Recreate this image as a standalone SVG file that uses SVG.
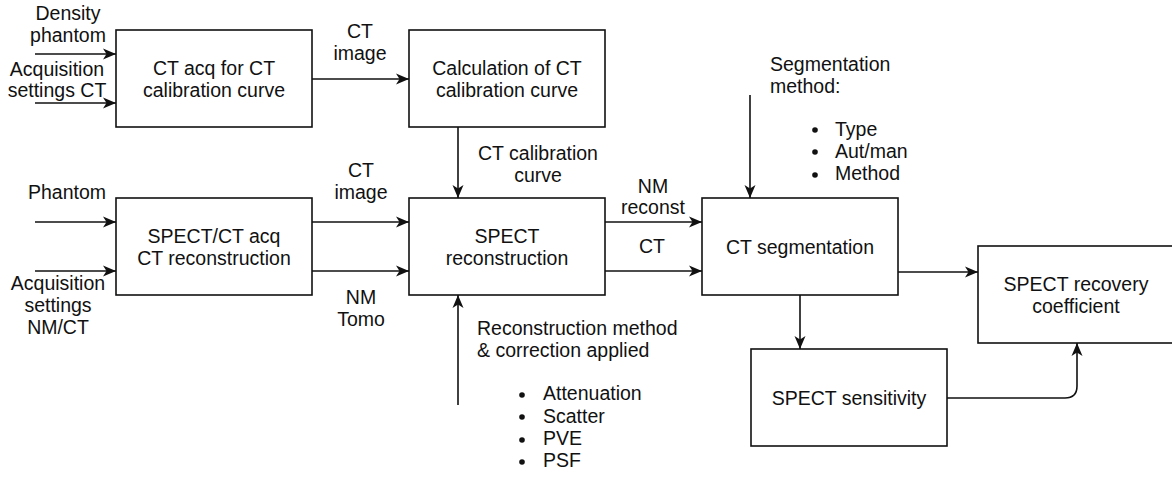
<svg xmlns="http://www.w3.org/2000/svg" width="1172" height="477" viewBox="0 0 1172 477">
<style>
  .box { fill: #ffffff; stroke: #111; stroke-width: 1.6; }
  .edge { fill: none; stroke: #111; stroke-width: 1.6; }
  text { font-family: "Liberation Sans", Arial, sans-serif; font-size: 19.5px; fill: #111; }
  .c { text-anchor: middle; }
  .bullet { fill: #111; }
</style>
<defs>
  <marker id="arr" viewBox="-14 -7 15 14" markerWidth="15" markerHeight="14" refX="0" refY="0" orient="auto" markerUnits="userSpaceOnUse">
    <path d="M0,0 L-13,-5.5 L-9.5,0 L-13,5.5 Z" fill="#111"/>
  </marker>
</defs>
<rect width="1172" height="477" fill="#ffffff"/>

<g id="connectors">
  <path class="edge" d="M35,54 H116" marker-end="url(#arr)"/>
  <path class="edge" d="M35,103 H116" marker-end="url(#arr)"/>
  <path class="edge" d="M312,79 H409" marker-end="url(#arr)"/>
  <path class="edge" d="M35,222 H116" marker-end="url(#arr)"/>
  <path class="edge" d="M35,271 H116" marker-end="url(#arr)"/>
  <path class="edge" d="M312,222 H409" marker-end="url(#arr)"/>
  <path class="edge" d="M312,271 H409" marker-end="url(#arr)"/>
  <path class="edge" d="M458,127 V198" marker-end="url(#arr)"/>
  <path class="edge" d="M605,222 H702" marker-end="url(#arr)"/>
  <path class="edge" d="M605,271 H702" marker-end="url(#arr)"/>
  <path class="edge" d="M750,95 V198" marker-end="url(#arr)"/>
  <path class="edge" d="M898,272 H978" marker-end="url(#arr)"/>
  <path class="edge" d="M800,295 V349" marker-end="url(#arr)"/>
  <path class="edge" d="M947,398 H1065 Q1077,398 1077,386 V343" marker-end="url(#arr)"/>
  <path class="edge" d="M458,405 V295" marker-end="url(#arr)"/>
</g>

<g id="labels">
  <text class="c" x="68" y="20">Density</text>
  <text class="c" x="68" y="42">phantom</text>
  <text class="c" x="57" y="76">Acquisition</text>
  <text class="c" x="57" y="97">settings CT</text>
  <text class="c" x="360" y="38">CT</text>
  <text class="c" x="360" y="60">image</text>
  <text class="c" x="538" y="160">CT calibration</text>
  <text class="c" x="538" y="182">curve</text>
  <text class="c" x="67" y="199">Phantom</text>
  <text class="c" x="58" y="290">Acquisition</text>
  <text class="c" x="58" y="312">settings</text>
  <text class="c" x="58" y="334">NM/CT</text>
  <text class="c" x="361" y="177">CT</text>
  <text class="c" x="361" y="199">image</text>
  <text class="c" x="361" y="304">NM</text>
  <text class="c" x="361" y="326">Tomo</text>
  <text class="c" x="653" y="193">NM</text>
  <text class="c" x="653" y="214">reconst</text>
  <text class="c" x="652" y="253">CT</text>
  <text x="770" y="71">Segmentation</text>
  <text x="770" y="93">method:</text>
  <circle class="bullet" cx="815" cy="130" r="2.8"/>
  <text x="835" y="136">Type</text>
  <circle class="bullet" cx="815" cy="152" r="2.8"/>
  <text x="835" y="158">Aut/man</text>
  <circle class="bullet" cx="815" cy="175" r="2.8"/>
  <text x="835" y="180">Method</text>
  <text x="477" y="335">Reconstruction method</text>
  <text x="477" y="357">&amp; correction applied</text>
  <circle class="bullet" cx="522" cy="395" r="2.8"/>
  <text x="543" y="400">Attenuation</text>
  <circle class="bullet" cx="522" cy="417" r="2.8"/>
  <text x="543" y="423">Scatter</text>
  <circle class="bullet" cx="522" cy="440" r="2.8"/>
  <text x="543" y="445">PVE</text>
  <circle class="bullet" cx="522" cy="462" r="2.8"/>
  <text x="543" y="467">PSF</text>
</g>

<g id="node-ct-acq">
  <rect class="box" x="116" y="30" width="196" height="97"/>
  <text class="c" x="214" y="75">CT acq for CT</text>
  <text class="c" x="214" y="97">calibration curve</text>
</g>
<g id="node-calc">
  <rect class="box" x="409" y="30" width="196" height="97"/>
  <text class="c" x="507" y="75">Calculation of CT</text>
  <text class="c" x="507" y="97">calibration curve</text>
</g>
<g id="node-spectct-acq">
  <rect class="box" x="116" y="198" width="196" height="97"/>
  <text class="c" x="214" y="243">SPECT/CT acq</text>
  <text class="c" x="214" y="265">CT reconstruction</text>
</g>
<g id="node-spect-recon">
  <rect class="box" x="409" y="198" width="196" height="97"/>
  <text class="c" x="507" y="243">SPECT</text>
  <text class="c" x="507" y="265">reconstruction</text>
</g>
<g id="node-ct-seg">
  <rect class="box" x="702" y="198" width="196" height="97"/>
  <text class="c" x="800" y="254">CT segmentation</text>
</g>
<g id="node-recovery">
  <rect class="box" x="978" y="246" width="196" height="97"/>
  <text class="c" x="1076" y="291">SPECT recovery</text>
  <text class="c" x="1076" y="313">coefficient</text>
</g>
<g id="node-sensitivity">
  <rect class="box" x="751" y="349" width="196" height="97"/>
  <text class="c" x="849" y="405">SPECT sensitivity</text>
</g>
</svg>
